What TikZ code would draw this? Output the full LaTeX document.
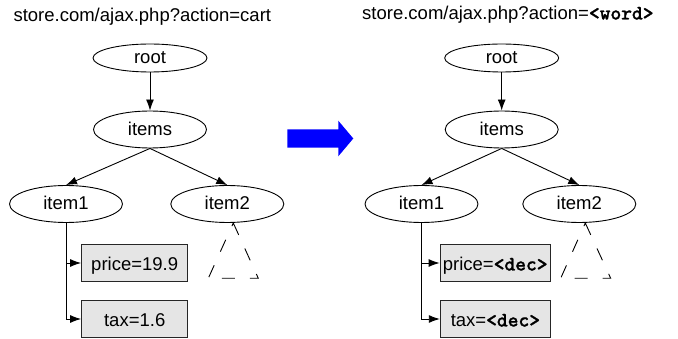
\documentclass[tikz,border=0pt]{standalone}
\usepackage{fontspec}
\setmainfont{Liberation Sans}
\newfontfamily\codefont{lmmonolt10-bold.otf}[FakeBold=1.2]
\usetikzlibrary{shapes.geometric,arrows.meta}
% placeholder tokens in a bold typewriter face
\newcommand\codetok[1]{{\fontsize{20.5}{22}\selectfont\codefont #1}}
\begin{document}
\begin{tikzpicture}[x=1pt,y=-1pt,
  font=\fontsize{18.5}{20}\selectfont,
  title/.style={anchor=base west, inner sep=0pt},
  rootoval/.style={ellipse, draw, line width=0.9pt, inner sep=0pt,
    minimum width=114pt, minimum height=28pt, text height=12pt, text depth=0pt},
  oval/.style={ellipse, draw, line width=0.9pt, inner sep=0pt,
    minimum width=113pt, minimum height=37pt, text height=12pt, text depth=0pt},
  leaf/.style={rectangle, draw=black!85, line width=1.2pt, fill=black!10,
    inner sep=1pt, minimum height=37pt, text height=15pt, text depth=0pt},
  edge/.style={-{Latex[length=11pt,width=8pt]}, line width=0.9pt},
  subtree/.style={line width=0.9pt, dash pattern=on 13pt off 15pt},
]
\useasboundingbox (0,0) rectangle (678,339);

% ---- concrete request ----
\node[title] (ltitle) at (13.3,22) {store.com/ajax.php?action=cart};
\node[rootoval] (lroot)  at (150,58)    {root};
\node[oval]     (litems) at (150,129.5) {items};
\node[oval]     (litem1) at (66,204)    {item1};
\node[oval]     (litem2) at (227.3,204) {item2};
\node[leaf, minimum width=106pt] (lprice) at (134.7,263) {price=19.9};
\node[leaf, minimum width=106pt] (ltax)   at (134.7,319) {tax=1.6};

\draw[edge] (lroot) -- (litems);
\draw[edge] (litems.south) -- (litem1.north);
\draw[edge] (litems.south) -- (litem2.north);
\draw[edge] (litem1.south) |- (lprice.west);
\draw[edge] (litem1.south) |- (ltax.west);
\draw[subtree] (233.3,223) -- (258.3,278.3) -- (208.3,278.3) -- cycle;

% ---- generalisation arrow ----
\fill[blue] (287.3,129.3) -- (338.3,129.3) -- (338.3,120.7) -- (353.3,138.5)
  -- (338.3,156.3) -- (338.3,147.7) -- (287.3,147.7) -- cycle;

% ---- abstracted request ----
\node[title] (rtitle) at (362,19.5) {store.com/ajax.php?action=\codetok{<word>}};
\node[rootoval] (rroot)  at (501.7,58)    {root};
\node[oval]     (ritems) at (501.7,129.5) {items};
\node[oval]     (ritem1) at (421.5,204)   {item1};
\node[oval]     (ritem2) at (579.3,204)   {item2};
\node[leaf, minimum width=110pt] (rprice) at (495.2,263) {price=\codetok{<dec>}};
\node[leaf, minimum width=110pt] (rtax)   at (495.4,319) {tax=\codetok{<dec>}};

\draw[edge] (rroot) -- (ritems);
\draw[edge] (ritems.south) -- (ritem1.north);
\draw[edge] (ritems.south) -- (ritem2.north);
\draw[edge] (ritem1.south) |- (rprice.west);
\draw[edge] (ritem1.south) |- (rtax.west);
\draw[subtree] (585.3,223) -- (610.7,278.3) -- (560.7,278.3) -- cycle;
\end{tikzpicture}
\end{document}
